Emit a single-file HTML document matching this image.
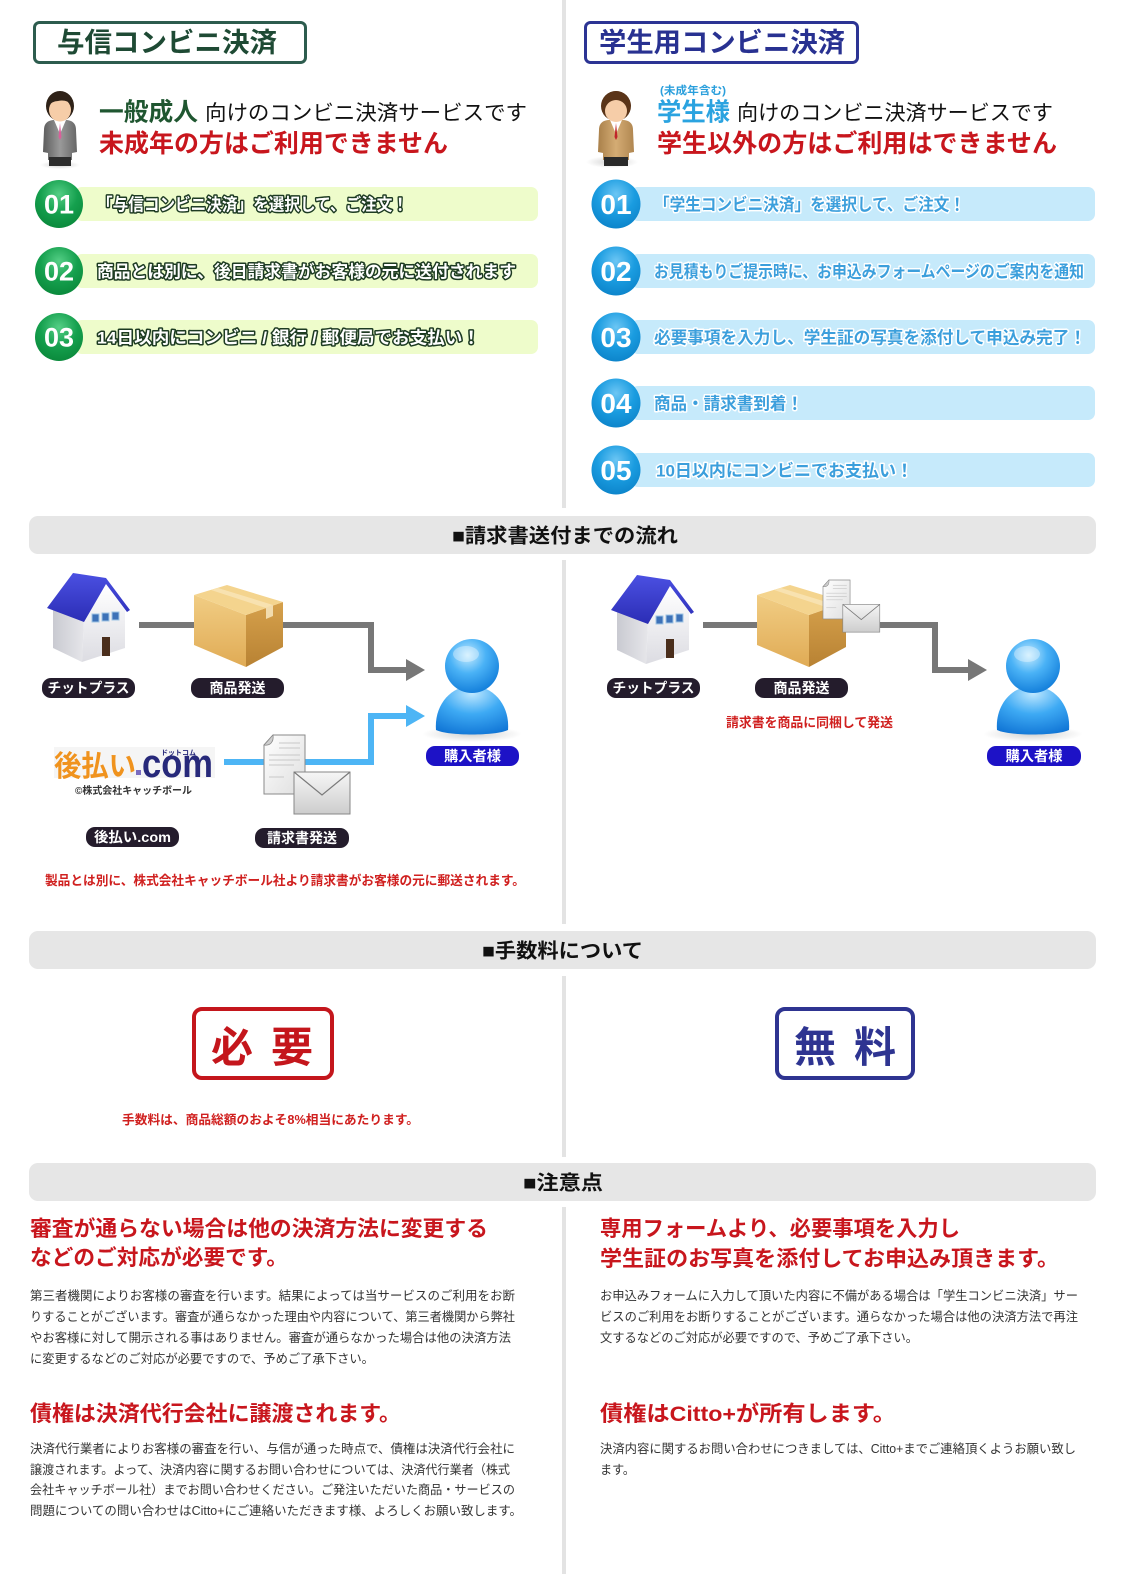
<!DOCTYPE html>
<html lang="ja"><head><meta charset="utf-8"><title>コンビニ決済</title>
<style>
html,body{margin:0;padding:0;background:#fff}
body{width:1128px;height:1574px;overflow:hidden}
svg{display:block;font-family:"Liberation Sans","Noto Sans CJK JP",sans-serif}
</style></head><body>
<svg width="1128" height="1574" viewBox="0 0 1128 1574" xmlns="http://www.w3.org/2000/svg">
<defs>
 <linearGradient id="roof" x1="0" y1="0" x2="0" y2="1"><stop offset="0" stop-color="#4b50e2"/><stop offset="1" stop-color="#2b2db5"/></linearGradient>
 <linearGradient id="wallL" x1="0" y1="0" x2="1" y2="0"><stop offset="0" stop-color="#c9cad1"/><stop offset="1" stop-color="#e6e6ea"/></linearGradient>
 <linearGradient id="wallR" x1="0" y1="0" x2="0" y2="1"><stop offset="0" stop-color="#ffffff"/><stop offset="1" stop-color="#dcdce2"/></linearGradient>
 <linearGradient id="boxL" x1="0" y1="0" x2="0" y2="1"><stop offset="0" stop-color="#f1cd84"/><stop offset="1" stop-color="#e0ab55"/></linearGradient>
 <linearGradient id="boxR" x1="0" y1="0" x2="0" y2="1"><stop offset="0" stop-color="#d6a14c"/><stop offset="1" stop-color="#b88233"/></linearGradient>
 <radialGradient id="pHead" cx="0.42" cy="0.3" r="0.75"><stop offset="0" stop-color="#c6ecff"/><stop offset="0.45" stop-color="#4ab2f6"/><stop offset="1" stop-color="#0e7ad8"/></radialGradient>
 <radialGradient id="pBody" cx="0.5" cy="0.15" r="0.95"><stop offset="0" stop-color="#bfe8ff"/><stop offset="0.45" stop-color="#3eaaf4"/><stop offset="1" stop-color="#0b6fd2"/></radialGradient>
 <linearGradient id="env" x1="0" y1="0" x2="0" y2="1"><stop offset="0" stop-color="#f6f6f6"/><stop offset="1" stop-color="#cdcdcd"/></linearGradient>
 <linearGradient id="sheet" x1="0" y1="0" x2="1" y2="1"><stop offset="0" stop-color="#ffffff"/><stop offset="1" stop-color="#dedede"/></linearGradient>
 <radialGradient id="gC" cx="0.5" cy="0.3" r="0.7"><stop offset="0" stop-color="#55cf86"/><stop offset="0.55" stop-color="#15a04e"/><stop offset="1" stop-color="#0b8a3c"/></radialGradient>
 <radialGradient id="bC" cx="0.5" cy="0.3" r="0.7"><stop offset="0" stop-color="#6cc6f4"/><stop offset="0.55" stop-color="#1a9ce0"/><stop offset="1" stop-color="#0d85cb"/></radialGradient>
 <linearGradient id="suit" x1="0" y1="0" x2="1" y2="0"><stop offset="0" stop-color="#5c5c5c"/><stop offset="0.5" stop-color="#9a9a9a"/><stop offset="1" stop-color="#666"/></linearGradient>
 <linearGradient id="jacket" x1="0" y1="0" x2="1" y2="0"><stop offset="0" stop-color="#a9804a"/><stop offset="0.5" stop-color="#d4ac74"/><stop offset="1" stop-color="#b08650"/></linearGradient>
 <radialGradient id="shd" cx="0.5" cy="0.5" r="0.5"><stop offset="0" stop-color="#000" stop-opacity="0.18"/><stop offset="1" stop-color="#000" stop-opacity="0"/></radialGradient>

 <g id="house">
  <polygon points="8,40 39,50 37,92 8,78" fill="url(#wallL)"/>
  <polygon points="39,50 61,16 80,40 80,78 37,92" fill="url(#wallR)"/>
  <polygon points="2,38 28,3 61,8 85,40 82,42 61,14 39,52" fill="url(#roof)"/>
  <rect x="47" y="44" width="7" height="8" fill="#3d72b8" stroke="#9fc4e4" stroke-width="1"/>
  <rect x="57" y="43" width="7" height="8" fill="#3d72b8" stroke="#9fc4e4" stroke-width="1"/>
  <rect x="67" y="42" width="7" height="8" fill="#3d72b8" stroke="#9fc4e4" stroke-width="1"/>
  <rect x="57" y="67" width="8" height="19" fill="#4a2e1c"/>
 </g>
 <g id="box">
  <polygon points="0,10 52,30 52,82 0,60" fill="url(#boxL)"/>
  <polygon points="52,30 89,17 89,62 52,82" fill="url(#boxR)"/>
  <polygon points="0,10 33,0 89,17 52,30" fill="#f4d48e"/>
  <polygon points="17,5 24,3 79,20 72,23" fill="#f8e2b0"/>
  <polygon points="72,23 79,20 79,31 72,34" fill="#f2dcae"/>
 </g>
 <g id="person">
  <ellipse cx="0" cy="68" rx="50" ry="8" fill="url(#shd)"/>
  <path d="M-36,64 C-38,40 -22,20 0,20 C22,20 38,40 36,64 C24,70 -24,70 -36,64 Z" fill="url(#pBody)"/>
  <circle cx="0" cy="0" r="27" fill="url(#pHead)"/>
  <ellipse cx="-6" cy="-12" rx="13" ry="8" fill="#fff" opacity="0.35"/>
 </g>
 <g id="docs">
  <path d="M9,0 H41 V59 H0 V10 Z" fill="url(#sheet)" stroke="#8a8a8a" stroke-width="1"/>
  <path d="M9,0 C10,7 6,11 0,10 C4,6 6,3 9,0 Z" fill="#cfcfcf" stroke="#8a8a8a" stroke-width="0.8"/>
  <g stroke="#c8c8c8" stroke-width="1">
   <line x1="15" y1="8" x2="36" y2="8"/><line x1="15" y1="13" x2="36" y2="13"/>
   <line x1="5" y1="20" x2="36" y2="20"/><line x1="5" y1="25" x2="36" y2="25"/>
   <line x1="5" y1="30" x2="30" y2="30"/><line x1="5" y1="42" x2="20" y2="42"/>
  </g>
  <rect x="30" y="37" width="56" height="42" fill="url(#env)" stroke="#878787" stroke-width="1"/>
  <polyline points="30,37 58,60 86,37" fill="none" stroke="#7a7a7a" stroke-width="1.2"/>
 </g>
</defs>

<!-- vertical divider -->
<rect x="562" y="0" width="4" height="508" fill="#e3e3e3"/>
<rect x="562" y="560" width="4" height="364" fill="#e3e3e3"/>
<rect x="562" y="976" width="4" height="181" fill="#e3e3e3"/>
<rect x="562" y="1207" width="4" height="367" fill="#e3e3e3"/>

<!-- section bars -->
<rect x="29" y="516" width="1067" height="38" rx="9" fill="#e6e6e6"/>
<text x="452" y="542.5" font-size="20" font-weight="700" fill="#111" textLength="226" lengthAdjust="spacingAndGlyphs">■請求書送付までの流れ</text>
<rect x="29" y="931" width="1067" height="38" rx="9" fill="#e6e6e6"/>
<text x="482" y="957.5" font-size="20" font-weight="700" fill="#111" textLength="161" lengthAdjust="spacingAndGlyphs">■手数料について</text>
<rect x="29" y="1163" width="1067" height="38" rx="9" fill="#e6e6e6"/>
<text x="523" y="1189.5" font-size="20" font-weight="700" fill="#111" textLength="80" lengthAdjust="spacingAndGlyphs">■注意点</text>

<!-- titles -->
<rect x="34.5" y="22.5" width="271" height="40" rx="5" fill="#fff" stroke="#2d5c4e" stroke-width="3"/>
<text x="57" y="52" font-size="27" font-weight="700" fill="#1e4a34" textLength="220" lengthAdjust="spacingAndGlyphs">与信コンビニ決済</text>
<rect x="585.5" y="22.5" width="272" height="40" rx="5" fill="#fff" stroke="#2c3494" stroke-width="3"/>
<text x="599" y="52" font-size="27" font-weight="700" fill="#283191" textLength="246" lengthAdjust="spacingAndGlyphs">学生用コンビニ決済</text>

<!-- left header person -->
<g>
 <ellipse cx="60" cy="165" rx="20" ry="4" fill="url(#shd)"/>
 <path d="M44,130 Q44,121 53,120 L67,120 Q76,121 76,130 L77,152 L72,153 L72,160 L48,160 L48,153 L43,152 Z" fill="url(#suit)"/>
 <rect x="49" y="157" width="22" height="9" fill="#2e2e2e"/>
 <polygon points="54,120 60,134 66,120" fill="#fff"/>
 <path d="M60,123 L58.5,137 L60,140 L61.5,137 Z" fill="#d9609a"/>
 <ellipse cx="60" cy="106" rx="14" ry="15" fill="#2f2218"/>
 <ellipse cx="60" cy="110" rx="11" ry="11.5" fill="#f6cda8"/>
 <path d="M47,105 Q49,92 60,92 Q71,92 73,105 Q66,99 58,101 Q52,101 47,107Z" fill="#2f2218"/>
</g>
<!-- right header person -->
<g>
 <ellipse cx="612" cy="162" rx="26" ry="6" fill="url(#shd)"/>
 <path d="M599,130 Q599,121 608,120 L624,120 Q633,121 633,130 L634,152 L629,153 L629,160 L603,160 L603,153 L598,152 Z" fill="url(#jacket)"/>
 <rect x="604" y="157" width="24" height="9" fill="#2a2a2a"/>
 <polygon points="610,120 616,134 622,120" fill="#fff"/>
 <path d="M616,123 L614.5,137 L616,140 L617.5,137 Z" fill="#c0262a"/>
 <ellipse cx="616" cy="106" rx="15" ry="15" fill="#5a3418"/>
 <ellipse cx="616" cy="111" rx="11" ry="11" fill="#f6cda8"/>
 <path d="M602,106 Q603,92 616,91 Q629,92 631,106 Q624,98 614,100 Q607,101 602,108Z" fill="#5a3418"/>
</g>

<!-- headlines left -->
<text x="99" y="120.5" font-size="25" font-weight="700" fill="#1f5630" textLength="99" lengthAdjust="spacingAndGlyphs">一般成人</text>
<text x="205" y="120" font-size="21" fill="#111" textLength="322" lengthAdjust="spacingAndGlyphs">向けのコンビニ決済サービスです</text>
<text x="99" y="152" font-size="25" font-weight="700" fill="#c8161d" textLength="349" lengthAdjust="spacingAndGlyphs">未成年の方はご利用できません</text>
<!-- headlines right -->
<text x="660" y="94" font-size="11" font-weight="700" fill="#2a9fdc" textLength="66" lengthAdjust="spacingAndGlyphs">(未成年含む)</text>
<text x="657" y="120.5" font-size="25" font-weight="700" fill="#2aa3e0" textLength="73" lengthAdjust="spacingAndGlyphs">学生様</text>
<text x="737" y="120" font-size="21" fill="#111" textLength="316" lengthAdjust="spacingAndGlyphs">向けのコンビニ決済サービスです</text>
<text x="657" y="152" font-size="25" font-weight="700" fill="#c8161d" textLength="400" lengthAdjust="spacingAndGlyphs">学生以外の方はご利用はできません</text>

<!-- left steps -->
<g>
 <rect x="75" y="187" width="463" height="34" rx="7" fill="#eefccb"/>
 <rect x="75" y="254" width="463" height="34" rx="7" fill="#eefccb"/>
 <rect x="75" y="320" width="463" height="34" rx="7" fill="#eefccb"/>
 <circle cx="59" cy="204" r="24" fill="url(#gC)"/>
 <circle cx="59" cy="271" r="24" fill="url(#gC)"/>
 <circle cx="59" cy="337" r="24" fill="url(#gC)"/>
 <g font-family="Liberation Sans" font-size="27" font-weight="700" fill="#fff" text-anchor="middle">
  <text x="59" y="213.5">01</text><text x="59" y="280.5">02</text><text x="59" y="346.5">03</text>
 </g>
 <g font-size="17" font-weight="700" fill="#fff" stroke="#1d3b22" stroke-width="3" stroke-linejoin="round" paint-order="stroke" lengthAdjust="spacingAndGlyphs">
  <text x="97" y="210.5" textLength="311" lengthAdjust="spacingAndGlyphs">「与信コンビニ決済」を選択して、ご注文！</text>
  <text x="97" y="277.5" textLength="419" lengthAdjust="spacingAndGlyphs">商品とは別に、後日請求書がお客様の元に送付されます</text>
  <text x="97" y="343.5" textLength="383" lengthAdjust="spacingAndGlyphs">14日以内にコンビニ / 銀行 / 郵便局でお支払い！</text>
 </g>
</g>

<!-- right steps -->
<g>
 <rect x="631" y="187" width="464" height="34" rx="7" fill="#c6eafb"/>
 <rect x="631" y="254" width="464" height="34" rx="7" fill="#c6eafb"/>
 <rect x="631" y="320" width="464" height="34" rx="7" fill="#c6eafb"/>
 <rect x="631" y="386" width="464" height="34" rx="7" fill="#c6eafb"/>
 <rect x="631" y="453" width="464" height="34" rx="7" fill="#c6eafb"/>
 <circle cx="616" cy="204" r="24.5" fill="url(#bC)"/>
 <circle cx="616" cy="271" r="24.5" fill="url(#bC)"/>
 <circle cx="616" cy="337" r="24.5" fill="url(#bC)"/>
 <circle cx="616" cy="403" r="24.5" fill="url(#bC)"/>
 <circle cx="616" cy="470" r="24.5" fill="url(#bC)"/>
 <g font-family="Liberation Sans" font-size="28" font-weight="700" fill="#fff" text-anchor="middle">
  <text x="616" y="214">01</text><text x="616" y="281">02</text><text x="616" y="347">03</text><text x="616" y="413">04</text><text x="616" y="480">05</text>
 </g>
 <g font-size="17" font-weight="700" fill="#3c9fdc" stroke="#ffffff" stroke-width="3" stroke-linejoin="round" paint-order="stroke">
  <text x="654" y="210.5" textLength="311" lengthAdjust="spacingAndGlyphs">「学生コンビニ決済」を選択して、ご注文！</text>
  <text x="654" y="277.5" textLength="430" lengthAdjust="spacingAndGlyphs">お見積もりご提示時に、お申込みフォームページのご案内を通知</text>
  <text x="654" y="343.5" textLength="432" lengthAdjust="spacingAndGlyphs">必要事項を入力し、学生証の写真を添付して申込み完了！</text>
  <text x="654" y="409.5" textLength="149" lengthAdjust="spacingAndGlyphs">商品・請求書到着！</text>
  <text x="656" y="476.5" textLength="257" lengthAdjust="spacingAndGlyphs">10日以内にコンビニでお支払い！</text>
 </g>
</g>

<!-- flow left -->
<polyline points="139,625 371,625 371,670 408,670" fill="none" stroke="#777" stroke-width="6"/>
<polygon points="406,659 425,670 406,681" fill="#777"/>
<polyline points="224,762 371,762 371,716 408,716" fill="none" stroke="#4db5f5" stroke-width="6"/>
<polygon points="406,705 425,716 406,727" fill="#4db5f5"/>
<use href="#house" transform="translate(45,570)"/>
<use href="#box" transform="translate(194,585)"/>
<use href="#person" transform="translate(472,666)"/>
<use href="#docs" transform="translate(264,735)"/>

<rect x="54" y="747" width="161" height="31" fill="#f5f5f5"/>
<text x="54" y="776" font-size="29" font-weight="700" fill="#f0931e" textLength="82" lengthAdjust="spacingAndGlyphs">後払い</text>
<rect x="136" y="770" width="5" height="5" fill="#7a6cc0"/>
<text x="142" y="777" font-family="Liberation Sans" font-size="40" font-weight="700" fill="#27297a" textLength="71" lengthAdjust="spacingAndGlyphs">com</text>
<text x="161" y="755" font-size="7" font-weight="700" fill="#27297a" textLength="35" lengthAdjust="spacingAndGlyphs">ドットコム</text>
<text x="75" y="794" font-size="10" font-weight="700" fill="#333" textLength="117" lengthAdjust="spacingAndGlyphs">©株式会社キャッチボール</text>

<g font-size="14" font-weight="700" fill="#fff" text-anchor="middle">
 <rect x="42" y="678" width="93" height="20" rx="9" fill="#241c2c"/>
 <text x="88.5" y="693" textLength="82" lengthAdjust="spacingAndGlyphs">チットプラス</text>
 <rect x="191" y="678" width="93" height="20" rx="9" fill="#241c2c"/>
 <text x="237.5" y="693" textLength="56" lengthAdjust="spacingAndGlyphs">商品発送</text>
 <rect x="426" y="746" width="93" height="20" rx="9" fill="#1d12c6"/>
 <text x="472.5" y="761" textLength="57" lengthAdjust="spacingAndGlyphs">購入者様</text>
 <rect x="86" y="827" width="93" height="20" rx="9" fill="#241c2c"/>
 <text x="132.5" y="842" textLength="77" lengthAdjust="spacingAndGlyphs">後払い.com</text>
 <rect x="255" y="828" width="94" height="20" rx="9" fill="#241c2c"/>
 <text x="302" y="843" textLength="70" lengthAdjust="spacingAndGlyphs">請求書発送</text>
</g>
<text x="45" y="885" font-size="13" font-weight="700" fill="#d0201f" textLength="480" lengthAdjust="spacingAndGlyphs">製品とは別に、株式会社キャッチボール社より請求書がお客様の元に郵送されます。</text>

<!-- flow right -->
<polyline points="703,625 935,625 935,670 970,670" fill="none" stroke="#777" stroke-width="6"/>
<polygon points="968,659 987,670 968,681" fill="#777"/>
<use href="#house" transform="translate(609,572)"/>
<use href="#box" transform="translate(757,585)"/>
<use href="#docs" transform="translate(823,580) scale(0.66)"/>
<use href="#person" transform="translate(1033,666)"/>
<g font-size="14" font-weight="700" fill="#fff" text-anchor="middle">
 <rect x="607" y="678" width="93" height="20" rx="9" fill="#241c2c"/>
 <text x="653.5" y="693" textLength="82" lengthAdjust="spacingAndGlyphs">チットプラス</text>
 <rect x="755" y="678" width="93" height="20" rx="9" fill="#241c2c"/>
 <text x="801.5" y="693" textLength="56" lengthAdjust="spacingAndGlyphs">商品発送</text>
 <rect x="987" y="746" width="94" height="20" rx="9" fill="#1d12c6"/>
 <text x="1034" y="761" textLength="57" lengthAdjust="spacingAndGlyphs">購入者様</text>
</g>
<text x="726" y="727" font-size="13" font-weight="700" fill="#d0201f" textLength="167" lengthAdjust="spacingAndGlyphs">請求書を商品に同梱して発送</text>

<!-- fee -->
<rect x="194" y="1009" width="138" height="69" rx="8" fill="#fff" stroke="#c4161c" stroke-width="4"/>
<text x="211" y="1062" font-size="42" font-weight="700" fill="#c4161c">必</text>
<text x="271" y="1062" font-size="42" font-weight="700" fill="#c4161c">要</text>
<rect x="777" y="1009" width="136" height="69" rx="8" fill="#fff" stroke="#2e3491" stroke-width="4"/>
<text x="794" y="1062" font-size="42" font-weight="700" fill="#2e3491">無</text>
<text x="854" y="1062" font-size="42" font-weight="700" fill="#2e3491">料</text>
<text x="122" y="1124" font-size="12.5" font-weight="700" fill="#d0201f" textLength="297" lengthAdjust="spacingAndGlyphs">手数料は、商品総額のおよそ8%相当にあたります。</text>

<!-- notes left -->
<g font-size="21.5" font-weight="700" fill="#c8161d">
 <text x="30" y="1236" textLength="458" lengthAdjust="spacingAndGlyphs">審査が通らない場合は他の決済方法に変更する</text>
 <text x="30" y="1265" textLength="258" lengthAdjust="spacingAndGlyphs">などのご対応が必要です。</text>
 <text x="30" y="1421" textLength="371" lengthAdjust="spacingAndGlyphs">債権は決済代行会社に譲渡されます。</text>
 <text x="600" y="1236" textLength="360" lengthAdjust="spacingAndGlyphs">専用フォームより、必要事項を入力し</text>
 <text x="600" y="1266" textLength="459" lengthAdjust="spacingAndGlyphs">学生証のお写真を添付してお申込み頂きます。</text>
 <text x="600" y="1421" textLength="296" lengthAdjust="spacingAndGlyphs">債権はCitto+が所有します。</text>
</g>
<g font-size="12.5" fill="#333">
 <text x="30" y="1300" textLength="485" lengthAdjust="spacingAndGlyphs">第三者機関によりお客様の審査を行います。結果によっては当サービスのご利用をお断</text>
 <text x="30" y="1321" textLength="485" lengthAdjust="spacingAndGlyphs">りすることがございます。審査が通らなかった理由や内容について、第三者機関から弊社</text>
 <text x="30" y="1342" textLength="481" lengthAdjust="spacingAndGlyphs">やお客様に対して開示される事はありません。審査が通らなかった場合は他の決済方法</text>
 <text x="30" y="1363" textLength="344" lengthAdjust="spacingAndGlyphs">に変更するなどのご対応が必要ですので、予めご了承下さい。</text>

 <text x="30" y="1453" textLength="485" lengthAdjust="spacingAndGlyphs">決済代行業者によりお客様の審査を行い、与信が通った時点で、債権は決済代行会社に</text>
 <text x="30" y="1474" textLength="480" lengthAdjust="spacingAndGlyphs">譲渡されます。よって、決済内容に関するお問い合わせについては、決済代行業者（株式</text>
 <text x="30" y="1494" textLength="485" lengthAdjust="spacingAndGlyphs">会社キャッチボール社）までお問い合わせください。ご発注いただいた商品・サービスの</text>
 <text x="30" y="1515" textLength="492" lengthAdjust="spacingAndGlyphs">問題についての問い合わせはCitto+にご連絡いただきます様、よろしくお願い致します。</text>

 <text x="600" y="1300" textLength="478" lengthAdjust="spacingAndGlyphs">お申込みフォームに入力して頂いた内容に不備がある場合は「学生コンビニ決済」サー</text>
 <text x="600" y="1321" textLength="478" lengthAdjust="spacingAndGlyphs">ビスのご利用をお断りすることがございます。通らなかった場合は他の決済方法で再注</text>
 <text x="600" y="1342" textLength="318" lengthAdjust="spacingAndGlyphs">文するなどのご対応が必要ですので、予めご了承下さい。</text>

 <text x="600" y="1453" textLength="476" lengthAdjust="spacingAndGlyphs">決済内容に関するお問い合わせにつきましては、Citto+までご連絡頂くようお願い致し</text>
 <text x="600" y="1474" textLength="35" lengthAdjust="spacingAndGlyphs">ます。</text>
</g>
</svg>
</body></html>
